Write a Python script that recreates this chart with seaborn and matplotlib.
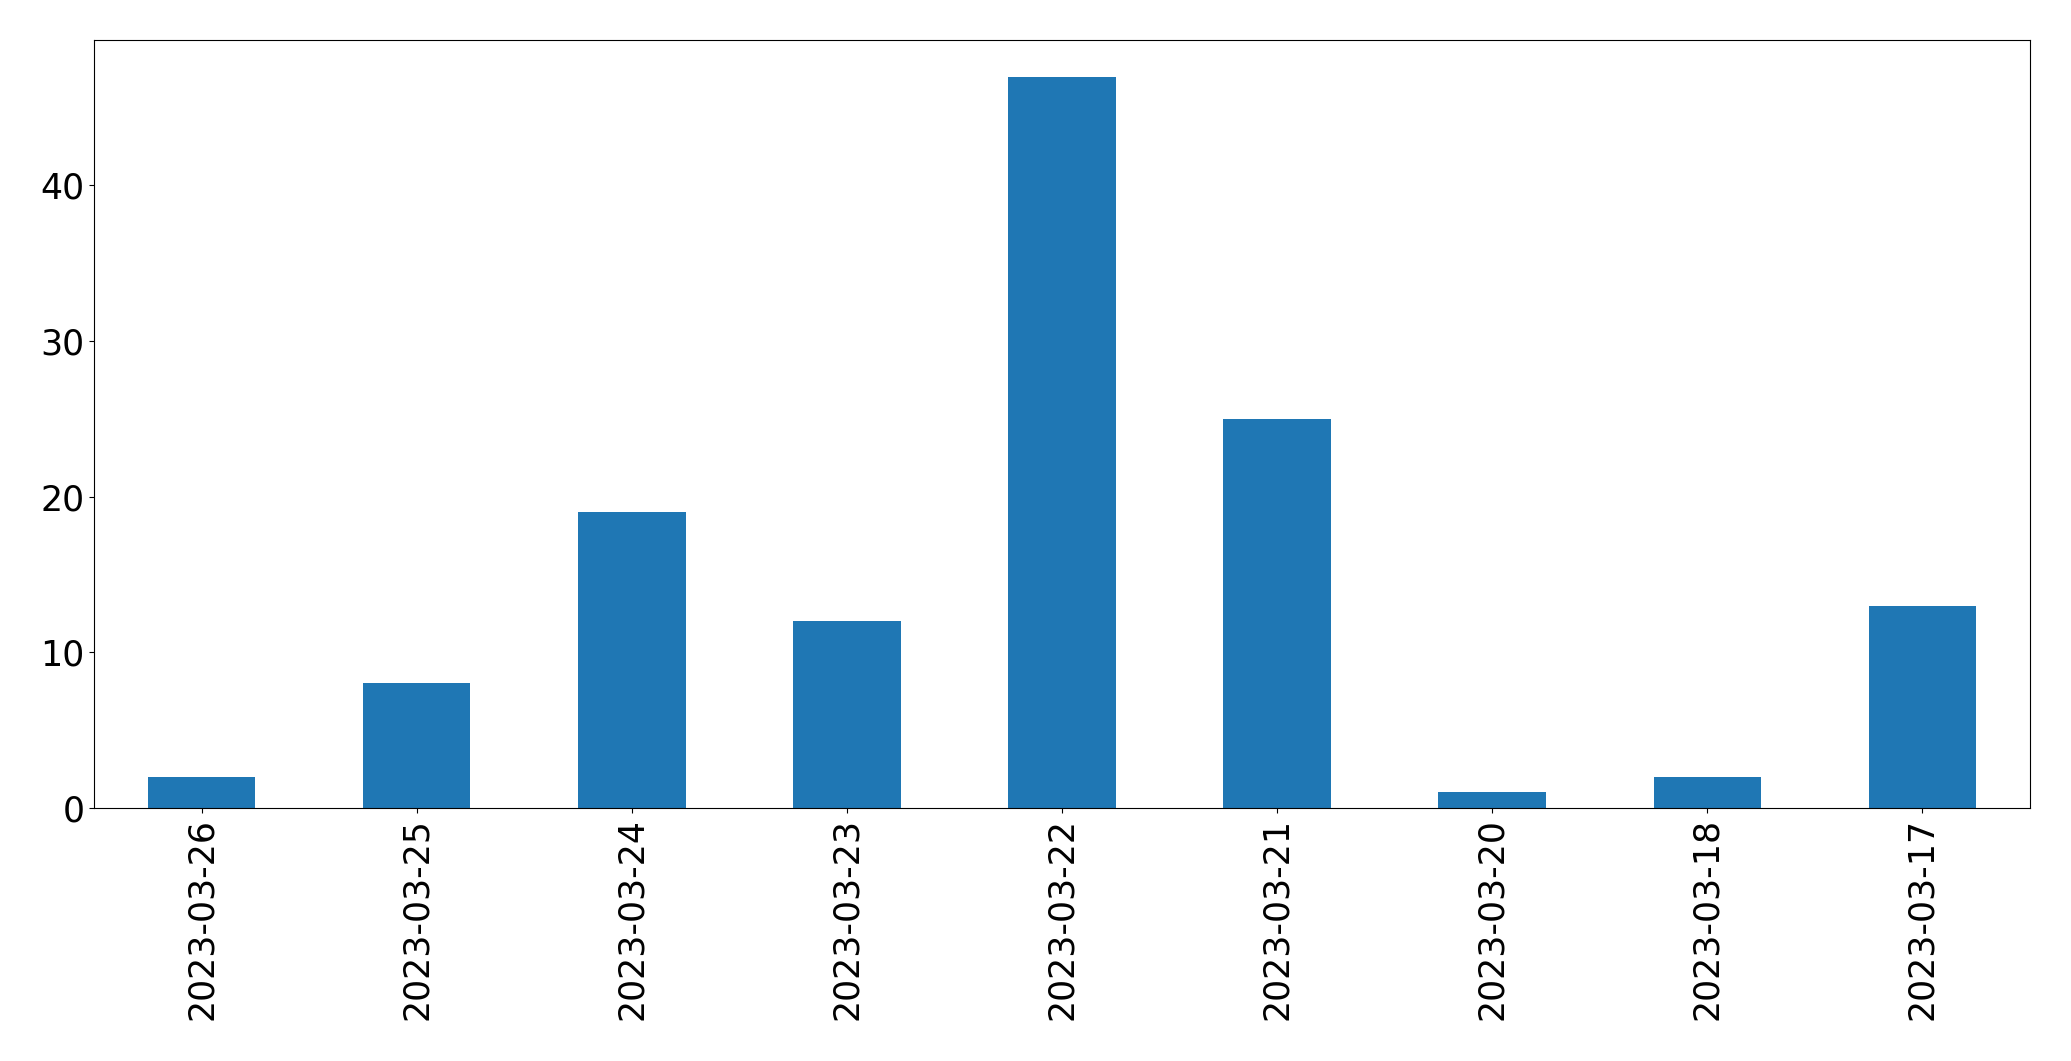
import matplotlib
matplotlib.use("Agg")
import matplotlib.pyplot as plt
import seaborn as sns
import pandas as pd

dates = ["2023-03-26", "2023-03-25", "2023-03-24", "2023-03-23", "2023-03-22",
         "2023-03-21", "2023-03-20", "2023-03-18", "2023-03-17"]
counts = [2, 8, 19, 12, 47, 25, 1, 2, 13]

df = pd.DataFrame({"date": dates, "count": counts})

fig, ax = plt.subplots(figsize=(20.71, 10.61), dpi=100)
sns.barplot(data=df, x="date", y="count", order=dates, color="#1f77b4",
            saturation=1, width=0.5, ax=ax)
ax.set_xlim(-0.5, len(dates) - 0.5)
ax.set_xlabel("")
ax.set_ylabel("")
ax.tick_params(axis="both", labelsize=25)
plt.setp(ax.get_xticklabels(), rotation=90)
for s in ax.spines.values():
    s.set_color("black")
fig.subplots_adjust(left=0.0454, right=0.9802, top=0.9623, bottom=0.2385)
fig.savefig("out.png", dpi=100)
